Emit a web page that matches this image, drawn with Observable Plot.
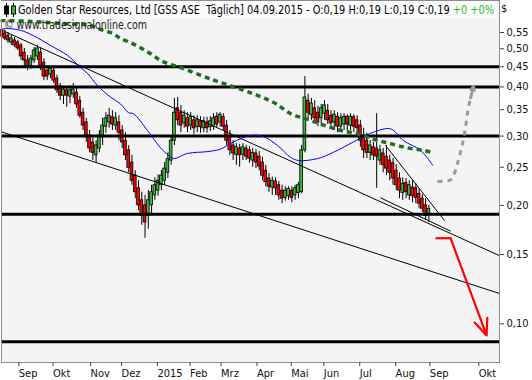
<!DOCTYPE html>
<html>
<head>
<meta charset="utf-8">
<script src="https://cdn.jsdelivr.net/npm/d3@7"></script>
<script src="https://cdn.jsdelivr.net/npm/@observablehq/plot@0.6"></script>
<style>
  body { margin: 0; background: #ffffff; }
  #wrap { position: relative; width: 532px; height: 380px; overflow: hidden; }
  .ov { position: absolute; white-space: nowrap; font-family: "DejaVu Sans Condensed", "DejaVu Sans", sans-serif; }
  .fit { display: inline-block; transform-origin: 0 50%; }
</style>
</head>
<body>
<div id="wrap">
  <div id="chart"></div>
  <div class="ov" id="hdr" style="left:1px;top:1px;width:496px;height:18px;background:#fbfbfb;font-size:11.5px;line-height:18px;color:#000;">
    <svg width="14" height="14" style="position:absolute;left:2px;top:2px" viewBox="0 0 14 14">
      <line x1="3.5" y1="0" x2="3.5" y2="14" stroke="#000"/>
      <rect x="1.5" y="3" width="4" height="8" fill="#000" stroke="#000"/>
      <line x1="10.5" y1="0" x2="10.5" y2="14" stroke="#000"/>
      <rect x="8.5" y="3" width="4" height="8" fill="#2fbf2f" stroke="#000"/>
    </svg>
    <span class="fit" id="hdrText" style="position:absolute;left:17px;top:0">Golden Star Resources, Ltd [GSS ASE&nbsp; Täglich] 04.09.2015 - O:0,19 H:0,19 L:0,19 C:0,19 <span style="color:#1fbf1f">+0 +0%</span></span>
  </div>
  <div class="ov" style="left:4px;top:19px;font-size:11.5px;line-height:13px;color:#222;"><span class="fit" id="wm">© www.tradesignalonline.com</span></div>
  <div class="ov" style="left:501px;top:2px;font-size:11px;line-height:14px;color:#111;">$</div>
</div>
<script>
// ---- month axis (trading-day index; future part in calendar days) ----
const monthDay   = [0, 21, 44, 63, 85, 105, 124, 146, 167, 187, 209, 231, 252, 282];
const monthLabel = ["Sep", "Okt", "Nov", "Dez", "2015", "Feb", "Mrz", "Apr", "Mai", "Jun", "Jul", "Aug", "Sep", "Okt"];
const yTicks = [0.10, 0.15, 0.20, 0.25, 0.30, 0.35, 0.40, 0.45, 0.50, 0.55];

// ---- candles (one per two trading days, first bar at day -10) ----
const open = [
 .557,.547,.540,.519,.525,.519,.510,.489,.467,.451,
 .467,.478,.489,.461,.440,.430,.440,.420,.401,.380,
 .392,.378,.383,.387,.369,.344,.325,.301,.289,.268,
 .279,.298,.317,.325,.335,.319,.325,.310,.292,.276,
 .257,.238,.221,.206,.200,.188,.200,.212,.218,.225,
 .231,.242,.260,.292,.353,.344,.323,.333,.319,.329,
 .316,.327,.314,.325,.316,.317,.336,.325,.336,.319,
 .298,.284,.269,.279,.269,.279,.276,.260,.271,.266,
 .257,.245,.234,.222,.230,.225,.218,.209,.211,.218,
 .212,.215,.216,.276,.369,.340,.353,.344,.333,.342,
 .348,.338,.325,.336,.317,.321,.336,.319,.335,.329,
 .319,.301,.292,.272,.281,.279,.260,.271,.266,.260,
 .256,.245,.234,.215,.228,.212,.222,.221,.214,.208,
 .200,.190];
const close = [
 .537,.531,.525,.531,.510,.501,.478,.467,.451,.472,
 .495,.501,.453,.425,.425,.445,.415,.392,.380,.394,
 .380,.392,.394,.361,.338,.319,.298,.279,.272,.284,
 .301,.319,.333,.338,.321,.333,.306,.289,.268,.249,
 .231,.216,.200,.188,.181,.206,.216,.225,.231,.238,
 .248,.262,.292,.344,.329,.319,.338,.317,.335,.314,
 .329,.316,.327,.314,.327,.333,.321,.340,.317,.292,
 .276,.271,.281,.268,.281,.266,.263,.272,.257,.251,
 .238,.229,.223,.231,.221,.212,.208,.218,.220,.209,
 .221,.225,.276,.376,.344,.363,.333,.325,.353,.359,
 .329,.323,.340,.317,.333,.336,.321,.336,.317,.314,
 .292,.276,.272,.284,.268,.266,.276,.253,.248,.242,
 .234,.225,.218,.227,.216,.225,.211,.209,.202,.196,
 .188,.196];
const high = [
 .563,.557,.550,.540,.534,.525,.516,.501,.481,.481,
 .504,.510,.501,.472,.451,.451,.448,.428,.408,.401,
 .401,.403,.408,.401,.378,.353,.333,.310,.296,.292,
 .310,.333,.344,.353,.348,.344,.338,.319,.306,.284,
 .268,.245,.231,.216,.212,.218,.225,.235,.239,.245,
 .257,.272,.301,.374,.376,.359,.348,.344,.344,.338,
 .338,.336,.335,.335,.336,.342,.344,.344,.342,.329,
 .310,.292,.287,.286,.287,.284,.282,.279,.277,.274,
 .265,.253,.241,.236,.235,.230,.225,.223,.223,.223,
 .225,.229,.284,.425,.383,.374,.369,.357,.361,.369,
 .361,.348,.348,.344,.342,.342,.340,.342,.340,.338,
 .329,.314,.305,.292,.289,.342,.284,.279,.284,.268,
 .263,.254,.242,.235,.234,.231,.231,.227,.220,.213,
 .208,.200];
const low = [
 .531,.525,.516,.510,.504,.495,.467,.453,.440,.443,
 .459,.467,.440,.415,.415,.420,.408,.385,.369,.361,
 .355,.363,.374,.353,.333,.310,.289,.272,.260,.257,
 .272,.284,.305,.314,.310,.310,.292,.279,.260,.242,
 .225,.208,.194,.178,.165,.174,.188,.206,.211,.218,
 .225,.234,.253,.284,.319,.306,.314,.306,.310,.303,
 .306,.305,.306,.305,.308,.310,.314,.316,.310,.284,
 .268,.260,.253,.250,.260,.260,.256,.250,.248,.245,
 .231,.223,.216,.212,.212,.206,.202,.205,.206,.203,
 .206,.208,.214,.272,.333,.329,.323,.317,.321,.329,
 .321,.314,.310,.306,.308,.310,.308,.310,.306,.305,
 .281,.263,.263,.260,.260,.221,.253,.242,.238,.231,
 .225,.218,.208,.206,.208,.206,.203,.202,.196,.192,
 .183,.181];

// ---- moving averages ----
const blueDay = [-10.6,-6.3,1.7,9.6,20.0,30.5,37.2,42.7,48.9,56.8,63.0,67.9,70.9,79.5,87.5,92.4,95.5,104.0,116.3,124.3,132.3,142.7,150.6,159.2,167.2,172.1,183.8,193.6,205.8,211.9,218.1,228.5,236.5,246.9,254.3];
const blueVal = [.560,.563,.557,.540,.510,.481,.453,.433,.403,.377,.362,.344,.342,.310,.280,.268,.263,.271,.274,.278,.290,.301,.299,.284,.265,.260,.263,.273,.290,.299,.307,.313,.292,.276,.253];
const greenDay = [-10.6,7.8,26.2,44.6,50.7,58.1,63.0,69.1,75.2,81.4,87.5,93.6,99.8,118.1,137.8,148.8,158.0,167.2,177.6,187.4,197.9,208.3,217.5,228.5,238.9,248.7,254.3];
const greenVal = [.590,.587,.580,.573,.560,.547,.531,.518,.503,.486,.467,.456,.448,.419,.393,.378,.363,.342,.331,.320,.310,.304,.295,.287,.280,.276,.272];

// ---- levels and trend lines ----
const levels = [0.45, 0.40, 0.30, 0.19, 0.09];
const trendDay1 = [-10, -10, 225.4, 222.4];
const trendVal1 = [.558, .3075, .284, .209];
const trendDay2 = [295.3, 295.3, 261.6, 265.3];
const trendVal2 = [.149, .1194, .183, .172];

// ---- projection arrows ----
const redDay = [256.1, 265.3, 287.4];
const redVal = [.165, .165, .0934];
const grayDay = [257.3, 264.1, 267.1, 269.6, 271.4, 273.3, 274.5, 275.7, 277.6];
const grayVal = [.230, .231, .238, .256, .273, .296, .316, .344, .375];
const grayTipDay = 279.4, grayTipVal = .401;

// ---- build tables ----
const bars = open.map((o, k) => ({day: -10 + 2 * k, open: o, close: close[k], high: high[k], low: low[k]}));
const upBars = bars.filter(b => b.close >= b.open);
const downBars = bars.filter(b => b.close < b.open);
const blue = blueDay.map((d, k) => ({day: d, v: blueVal[k]}));
const green = greenDay.map((d, k) => ({day: d, v: greenVal[k]}));
const trends = trendDay1.map((d, k) => ({d1: d, p1: trendVal1[k], d2: trendDay2[k], p2: trendVal2[k]}));
const redH = [{day: redDay[0], v: redVal[0]}, {day: redDay[1], v: redVal[1]}];
const redA = [{d1: redDay[1], p1: redVal[1], d2: redDay[2], p2: redVal[2]}];
const gray = grayDay.map((d, k) => ({day: d, v: grayVal[k]}));
const grayA = [{d1: grayDay[grayDay.length - 1], p1: grayVal[grayVal.length - 1], d2: grayTipDay, p2: grayTipVal}];
const labelByDay = new Map(monthDay.map((d, k) => [d, monthLabel[k]]));

const font = '"DejaVu Sans Condensed", "DejaVu Sans", sans-serif';
const halfW = 0.85;

const chart = Plot.plot({
  width: 532,
  height: 380,
  marginLeft: 1,
  marginRight: 33,
  marginTop: 0,
  marginBottom: 18,
  style: {fontFamily: font, fontSize: "11px", color: "#111", background: "#ffffff"},
  x: {type: "linear", domain: [-10, 295.3]},
  y: {type: "log", domain: [0.07974, 0.6633]},
  marks: [
    Plot.frame({fill: "#f4f4f4"}),
    Plot.ruleX(bars, {x: "day", y1: "low", y2: "high", stroke: "#000", strokeWidth: 1}),
    Plot.rect(downBars, {x1: d => d.day - halfW, x2: d => d.day + halfW, y1: "open", y2: "close", fill: "#ff0000", stroke: "#000", strokeWidth: 0.8}),
    Plot.rect(upBars, {x1: d => d.day - halfW, x2: d => d.day + halfW, y1: "open", y2: "close", fill: "#3cb93c", stroke: "#000", strokeWidth: 0.8}),
    Plot.ruleY(levels, {stroke: "#000", strokeWidth: 3}),
    Plot.link(trends, {x1: "d1", y1: "p1", x2: "d2", y2: "p2", stroke: "#000", strokeWidth: 1}),
    Plot.line(blue, {x: "day", y: "v", stroke: "#0000ff", strokeWidth: 1, curve: "catmull-rom"}),
    Plot.line(green, {x: "day", y: "v", stroke: "#1f6b1f", strokeWidth: 3.5, strokeDasharray: "5,4", strokeLinecap: "butt", curve: "catmull-rom"}),
    Plot.line(redH, {x: "day", y: "v", stroke: "#ff0000", strokeWidth: 2.2, strokeLinecap: "butt"}),
    Plot.arrow(redA, {x1: "d1", y1: "p1", x2: "d2", y2: "p2", stroke: "#ff0000", strokeWidth: 2.2, headLength: 12, headAngle: 45}),
    Plot.line(gray, {x: "day", y: "v", stroke: "#9a9a9a", strokeWidth: 3, strokeDasharray: "5,5", strokeLinecap: "butt", curve: "monotone-x"}),
    Plot.arrow(grayA, {x1: "d1", y1: "p1", x2: "d2", y2: "p2", stroke: "#9a9a9a", strokeWidth: 3, headLength: 10, headAngle: 50}),
    Plot.frame({stroke: "#8c8c8c", strokeWidth: 1}),
    Plot.axisX(monthDay, {tickFormat: d => labelByDay.get(d), tickSize: 4, tickPadding: 3, textAnchor: "start", dx: 1, stroke: "#444", fill: "#111", label: null}),
    Plot.axisY(yTicks, {anchor: "right", tickFormat: v => v.toFixed(2).replace(".", ","), tickSize: 4, tickPadding: 3, stroke: "#444", fill: "#111", label: null})
  ]
});
document.getElementById("chart").appendChild(chart);

// fit overlay texts to the widths seen in the original
function fit(id, target) {
  const el = document.getElementById(id);
  const w = el.getBoundingClientRect().width;
  if (w > 0) el.style.transform = `scaleX(${target / w})`;
}
fit("hdrText", 476);
fit("wm", 143);
</script>
</body>
</html>
